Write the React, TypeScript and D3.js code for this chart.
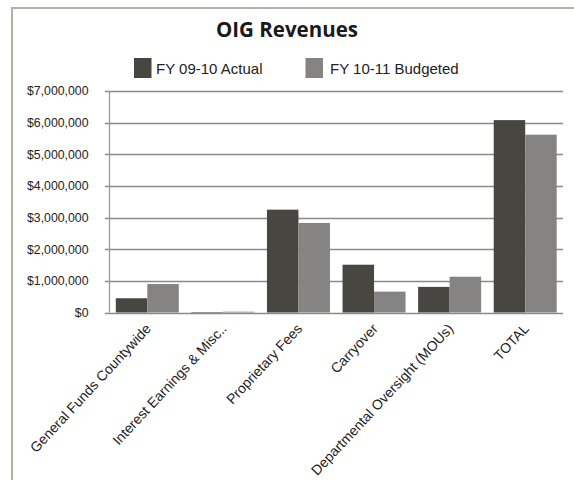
import React from "react";
import * as d3 from "d3";

const categories = [
  "General Funds Countywide",
  "Interest Earnings & Misc..",
  "Proprietary Fees",
  "Carryover",
  "Departmental Oversight (MOUs)",
  "TOTAL",
];
const seriesNames = ["FY 09-10 Actual", "FY 10-11 Budgeted"];
const actual = [450000, 15000, 3250000, 1510000, 810000, 6080000];
const budgeted = [900000, 25000, 2830000, 660000, 1130000, 5620000];
const yTicks = [0, 1000000, 2000000, 3000000, 4000000, 5000000, 6000000, 7000000];

const colors = ["#484641", "#858483"];

export default function App() {
  const W = 574, H = 480;
  const left = 109.5, right = 563, top = 91, bottom = 312.5;
  const x = d3.scaleBand<string>().domain(categories).range([left, right]).paddingInner(0.4 / 2.4).paddingOuter(0.2 / 2.4);
  const xs = d3.scaleBand<string>().domain(seriesNames).range([0, x.bandwidth()]).padding(0);
  const y = d3.scaleLinear().domain([0, 7000000]).range([bottom, top]);
  const fmt = (v: number) => "$" + d3.format(",")(v);
  const series = [actual, budgeted];
  return (
    <div style={{ position: "absolute", left: 0, top: 0 }}>
      <svg width={W} height={H} style={{ display: "block", background: "#fff" }}>
        <rect x={0} y={0} width={W} height={H} fill="#fff" />
        <line x1={12} x2={W} y1={8} y2={8} stroke="#b3b1a3" strokeWidth={2} />
        <line x1={12} x2={12} y1={7} y2={H} stroke="#b3b1a3" strokeWidth={2} />
        <text x={287} y={37} textAnchor="middle" fontFamily="'Open Sans', sans-serif" fontWeight={700} fontSize={20.5} fill="#1a1a1a">
          OIG Revenues
        </text>
        {/* legend */}
        <rect x={134} y={58} width={17.5} height={20} fill={colors[0]} />
        <text x={156} y={73.5} fontFamily="'Liberation Sans', Arial, sans-serif" fontSize={15} fill="#222">{seriesNames[0]}</text>
        <rect x={305.5} y={58} width={17.5} height={20} fill={colors[1]} />
        <text x={330} y={73.5} fontFamily="'Liberation Sans', Arial, sans-serif" fontSize={15} fill="#222">{seriesNames[1]}</text>
        {/* gridlines */}
        {yTicks.map((t) => (
          <g key={t}>
            <line x1={105} x2={right} y1={Math.round(y(t)) + 0.5} y2={Math.round(y(t)) + 0.5} stroke="#8a8a8a" strokeWidth={1.3} />
            <text x={88.5} y={y(t) + 4.3} textAnchor="end" fontFamily="'Liberation Sans', Arial, sans-serif" fontSize={12.3} fill="#222">
              {fmt(t)}
            </text>
          </g>
        ))}
        <line x1={left} x2={left} y1={top} y2={bottom} stroke="#9a9a9a" strokeWidth={1.3} />
        {/* bars */}
        {categories.map((c, i) => (
          <g key={c}>
            {series.map((s, j) => (
              <rect
                key={j}
                x={(x(c) as number) + (xs(seriesNames[j]) as number)}
                y={y(s[i])}
                width={xs.bandwidth()}
                height={bottom - y(s[i])}
                fill={colors[j]}
              />
            ))}
          </g>
        ))}
        {/* x labels */}
        {categories.map((c) => {
          const cx = (x(c) as number) + x.bandwidth() / 2;
          return (
            <text
              key={c}
              transform={`translate(${cx + 1},${326}) rotate(-47)`}
              textAnchor="end"
              dy="0.35em"
              fontFamily="'Liberation Sans', Arial, sans-serif"
              fontSize={14}
              fill="#222"
            >
              {c}
            </text>
          );
        })}
      </svg>
    </div>
  );
}
